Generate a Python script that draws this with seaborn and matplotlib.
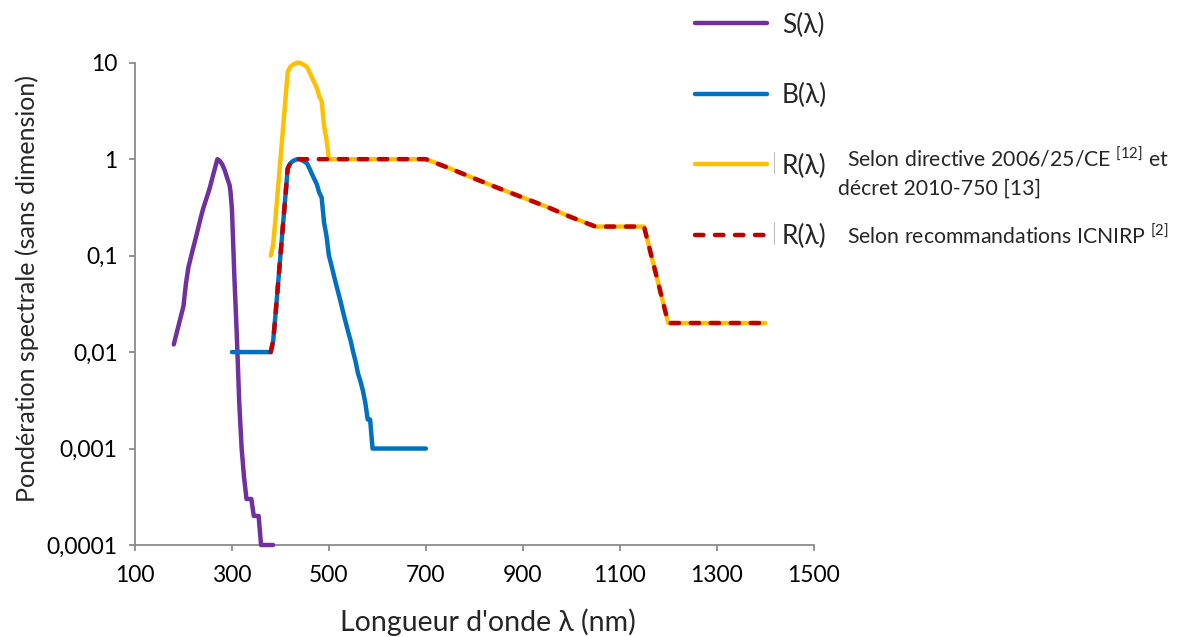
import matplotlib
matplotlib.use("Agg")
import matplotlib.pyplot as plt
from matplotlib.lines import Line2D
import seaborn as sns
import pandas as pd

# ---- data ----
S_WL = [180, 190, 200, 205, 210, 215, 220, 225, 230, 235, 240, 245, 250, 255, 260, 265,
        270, 275, 280, 285, 290, 295, 297, 300, 305, 310, 315, 320, 325, 330, 340, 345,
        355, 360, 385]
S_VAL = [0.012, 0.019, 0.03, 0.051, 0.075, 0.095, 0.12, 0.15, 0.19, 0.24, 0.30, 0.36,
         0.43, 0.52, 0.65, 0.81, 1.0, 0.96, 0.88, 0.77, 0.64, 0.54, 0.46, 0.30, 0.06,
         0.015, 0.003, 0.001, 0.0005, 0.0003, 0.0003, 0.0002, 0.0002, 0.0001, 0.0001]

B_WL = [300, 380, 385, 390, 395, 400, 405, 410, 415, 420, 425, 430, 435, 440, 445, 450,
        455, 460, 465, 470, 475, 480, 485, 490, 495, 500, 505, 510, 515, 520, 525, 530,
        535, 540, 545, 550, 555, 560, 565, 570, 575, 580, 585, 590, 595, 600, 700]
B_VAL = [0.01, 0.01, 0.013, 0.025, 0.05, 0.1, 0.2, 0.4, 0.8, 0.9, 0.95, 0.98, 1.0, 1.0,
         0.97, 0.94, 0.9, 0.8, 0.7, 0.62, 0.55, 0.45, 0.4, 0.22, 0.16, 0.1, 0.08, 0.063,
         0.05, 0.04, 0.032, 0.025, 0.02, 0.016, 0.013, 0.01, 0.008, 0.006, 0.005, 0.004,
         0.003, 0.002, 0.002, 0.001, 0.001, 0.001, 0.001]

R1_WL = [380, 385, 390, 395, 400, 405, 410, 415, 420, 425, 430, 435, 440, 445, 450, 455,
         460, 465, 470, 475, 480, 485, 490, 495, 500, 700, 750, 800, 850, 900, 950, 1000,
         1050, 1100, 1150, 1200, 1250, 1300, 1350, 1400]
R1_VAL = [0.1, 0.13, 0.25, 0.5, 1.0, 2.0, 4.0, 8.0, 9.0, 9.5, 9.8, 10.0, 10.0, 9.7, 9.4,
          9.0, 8.0, 7.0, 6.2, 5.5, 4.5, 4.0, 2.2, 1.6, 1.0, 1.0, 0.8, 0.63, 0.5, 0.4, 0.32,
          0.25, 0.2, 0.2, 0.2, 0.02, 0.02, 0.02, 0.02, 0.02]

R2_WL = [380, 385, 390, 395, 400, 405, 410, 415, 420, 425, 430, 435, 440, 500, 700, 750,
         800, 850, 900, 950, 1000, 1050, 1100, 1150, 1200, 1250, 1300, 1350, 1400]
R2_VAL = [0.01, 0.013, 0.025, 0.05, 0.1, 0.2, 0.4, 0.8, 0.9, 0.95, 0.98, 1.0, 1.0, 1.0,
          1.0, 0.8, 0.63, 0.5, 0.4, 0.32, 0.25, 0.2, 0.2, 0.2, 0.02, 0.02, 0.02, 0.02, 0.02]

Y_TICKS = [0.0001, 0.001, 0.01, 0.1, 1, 10]
Y_TICK_LABELS = ["0,0001", "0,001", "0,01", "0,1", "1", "10"]
X_TICKS = [100, 300, 500, 700, 900, 1100, 1300, 1500]

LABELS = ["S(λ)", "B(λ)", "R(λ)", "R(λ)"]
COLORS = ["#7030A0", "#0070C0", "#FFC000", "#C00000"]

# ---- style ----
sns.set_style("white")
plt.rcParams["font.family"] = ["Lato", "Liberation Serif", "DejaVu Sans"]
plt.rcParams["mathtext.fontset"] = "custom"
plt.rcParams["mathtext.rm"] = "Lato"
plt.rcParams["mathtext.default"] = "regular"

W, H = 1181, 637
fig = plt.figure(figsize=(W / 100, H / 100), dpi=100)
L, R, T, Bm = 135, 813.7, 62.7, 545
ax = fig.add_axes([L / W, 1 - Bm / H, (R - L) / W, (Bm - T) / H])

series = [(S_WL, S_VAL), (B_WL, B_VAL), (R1_WL, R1_VAL), (R2_WL, R2_VAL)]
LW = 3.2
for (xs, ys), lab, col in zip(series, LABELS, COLORS):
    df = pd.DataFrame({"wl": xs, "v": ys})
    sns.lineplot(data=df, x="wl", y="v", ax=ax, color=col, linewidth=LW,
                 estimator=None, sort=False, label=lab)

lines = ax.get_lines()
for ln in lines:
    ln.set_clip_on(False)
    ln.set_zorder(3)
    ln.set_solid_capstyle("round")
    ln.set_solid_joinstyle("round")
lines[3].set_dashes((1.9, 2.6))
lines[3].set_dash_capstyle("round")
lines[3].set_zorder(4)

ax.set_yscale("log")
ax.set_xlim(100, 1500)
ax.set_ylim(0.0001, 10)
ax.set_yticks(Y_TICKS)
ax.set_yticklabels(Y_TICK_LABELS)
ax.minorticks_off()
ax.set_xticks(X_TICKS)
ax.set_xticklabels([str(t) for t in X_TICKS])

gray = "#868686"
for side in ["top", "right"]:
    ax.spines[side].set_visible(False)
for side in ["left", "bottom"]:
    ax.spines[side].set_color(gray)
    ax.spines[side].set_linewidth(1.25)
ax.tick_params(axis="both", direction="out", length=4.5, width=1.25, color=gray,
               labelsize=16.5, labelcolor="black", left=True, bottom=True)
ax.tick_params(axis="y", pad=8)
ax.tick_params(axis="x", pad=10)

ax.set_xlabel("Longueur d'onde λ (nm)", fontsize=20.5)
ax.set_ylabel("Pondération spectrale (sans dimension)", fontsize=18)
ax.xaxis.set_label_coords((487.5 - L) / (R - L), (Bm - 622) / (Bm - T))
ax.xaxis.label.set_verticalalignment("center")
ax.yaxis.set_label_coords((27 - L) / (R - L), (Bm - 288) / (Bm - T))
ax.yaxis.label.set_verticalalignment("center")

leg = ax.legend(handles=lines, labels=LABELS, loc="upper left",
                bbox_to_anchor=(695 / W, 1 - 12.5 / H), bbox_transform=fig.transFigure,
                frameon=False, fontsize=19, handlelength=2.73, handletextpad=0.57,
                labelspacing=1.72, borderpad=0, borderaxespad=0)

fig.text(846.7 / W, 1 - 166 / H, "Selon directive 2006/25/CE $^{[12]}$ et",
         fontsize=15.3, va="baseline", ha="left")
fig.text(838 / W, 1 - 195 / H, "décret 2010-750 [13]", fontsize=15.3, va="baseline", ha="left")
fig.text(846.7 / W, 1 - 244 / H, "Selon recommandations ICNIRP $^{[2]}$",
         fontsize=15.3, va="baseline", ha="left")

# thin separators before the R(λ) labels, as in the reference legend
for y0, y1 in [(152, 173), (222, 244)]:
    fig.add_artist(Line2D([774 / W, 774 / W], [1 - y0 / H, 1 - y1 / H],
                          color="#BFBFBF", linewidth=0.8))

fig.savefig("out.png", dpi=100)
